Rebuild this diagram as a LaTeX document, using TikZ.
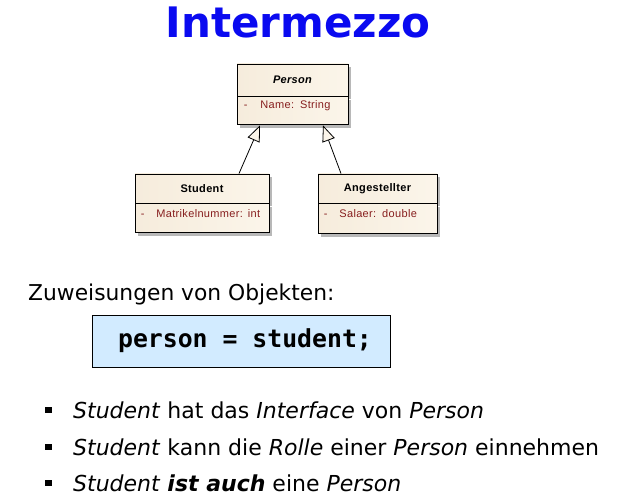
\documentclass[tikz,border=0pt]{standalone}
\usepackage{fontspec}
\setmainfont{DejaVu Sans}
\setmonofont{DejaVu Sans Mono}
\newfontfamily\umlfont[LetterSpace=3]{Liberation Sans}
\usetikzlibrary{arrows.meta,shadows}

\definecolor{titleblue}{RGB}{10,10,240}
\definecolor{umlfill}{RGB}{251,245,234}
\definecolor{umlfillL}{RGB}{246,236,220}
\definecolor{attrred}{RGB}{135,30,30}
\definecolor{codefill}{RGB}{210,235,255}

\tikzset{
  x=1pt, y=-1pt,
  umlbox/.style={draw=black, line width=0.9pt, left color=umlfillL, right color=umlfill,
    drop shadow={shadow xshift=3pt, shadow yshift=-3pt, fill=black!35, opacity=0.8},
    inner sep=0pt},
  umlhead/.style={umlbox, font=\umlfont\fontsize{11}{13}\selectfont\bfseries},
  attrtext/.style={font=\umlfont\fontsize{11}{13}\selectfont, text=attrred, inner sep=0pt},
  inherit/.style={line width=0.8pt, -{Triangle[open, length=16pt, width=13pt, fill=umlfill]}},
  codebox/.style={draw=black, line width=0.9pt, fill=codefill, inner sep=0pt},
  bulletsq/.style={fill=black, minimum size=6.5pt, inner sep=0pt},
  bodytext/.style={font=\fontsize{22}{26}\selectfont, inner sep=0pt, anchor=base west},
}

\begin{document}
\begin{tikzpicture}
\useasboundingbox (0,0) rectangle (624,497);

% title
\node[font=\fontsize{42}{48}\selectfont\bfseries, text=titleblue, inner sep=0pt, anchor=base]
  (title) at (298,38) {Intermezzo};

% class Person
\node[umlhead, minimum width=111pt, minimum height=32pt] (person) at (292.5,80) {\itshape Person};
\node[umlbox, minimum width=111pt, minimum height=28pt, anchor=north] (personattr) at (person.south) {};
\node[attrtext, anchor=base west] (personname) at ([xshift=7pt,yshift=-12.5pt]personattr.north west)
  {-\hspace{13pt}Name:\hspace{6pt}String};

% class Student
\node[umlhead, minimum width=134pt, minimum height=29pt] (student) at (202,188.5) {Student};
\node[umlbox, minimum width=134pt, minimum height=29pt, anchor=north] (studentattr) at (student.south) {};
\node[attrtext, anchor=base west] (studentnr) at ([xshift=6pt,yshift=-14pt]studentattr.north west)
  {-\hspace{12pt}Matrikelnummer:\hspace{5pt}int};

% class Angestellter
\node[umlhead, minimum width=119pt, minimum height=29pt] (angest) at (377.5,188.5) {Angestellter};
\node[umlbox, minimum width=119pt, minimum height=30pt, anchor=north] (angestattr) at (angest.south) {};
\node[attrtext, anchor=base west] (angestsal) at ([xshift=6pt,yshift=-14pt]angestattr.north west)
  {-\hspace{12pt}Salaer:\hspace{6pt}double};

% generalisations
\draw[inherit] ([xshift=37pt]student.north) -- ([xshift=-32.5pt]personattr.south);
\draw[inherit] ([xshift=-36.5pt]angest.north) -- ([xshift=30.5pt]personattr.south);

% assignment
\node[font=\fontsize{21.8}{26}\selectfont, inner sep=0pt, anchor=base west]
  (zuweisung) at (28,300) {Zuweisungen von Objekten:};
\node[codebox, minimum width=298pt, minimum height=52pt] (code) at (241,341)
  {\hspace{8pt}\fontsize{24.8}{28}\selectfont\ttfamily\bfseries person = student;};

% bullet list
\node[bulletsq] (b1) at (48.5,410) {};
\node[bodytext] (t1) at (73,418) {\textit{Student} hat das \textit{Interface} von \textit{Person}};
\node[bulletsq] (b2) at (48.5,447) {};
\node[bodytext] (t2) at (73,455) {\textit{Student} kann die \textit{Rolle} einer \textit{Person} einnehmen};
\node[bulletsq] (b3) at (48.5,483) {};
\node[bodytext] (t3) at (73,491) {\textit{Student} \textbf{\textit{ist auch}} eine \textit{Person}};
\end{tikzpicture}
\end{document}
